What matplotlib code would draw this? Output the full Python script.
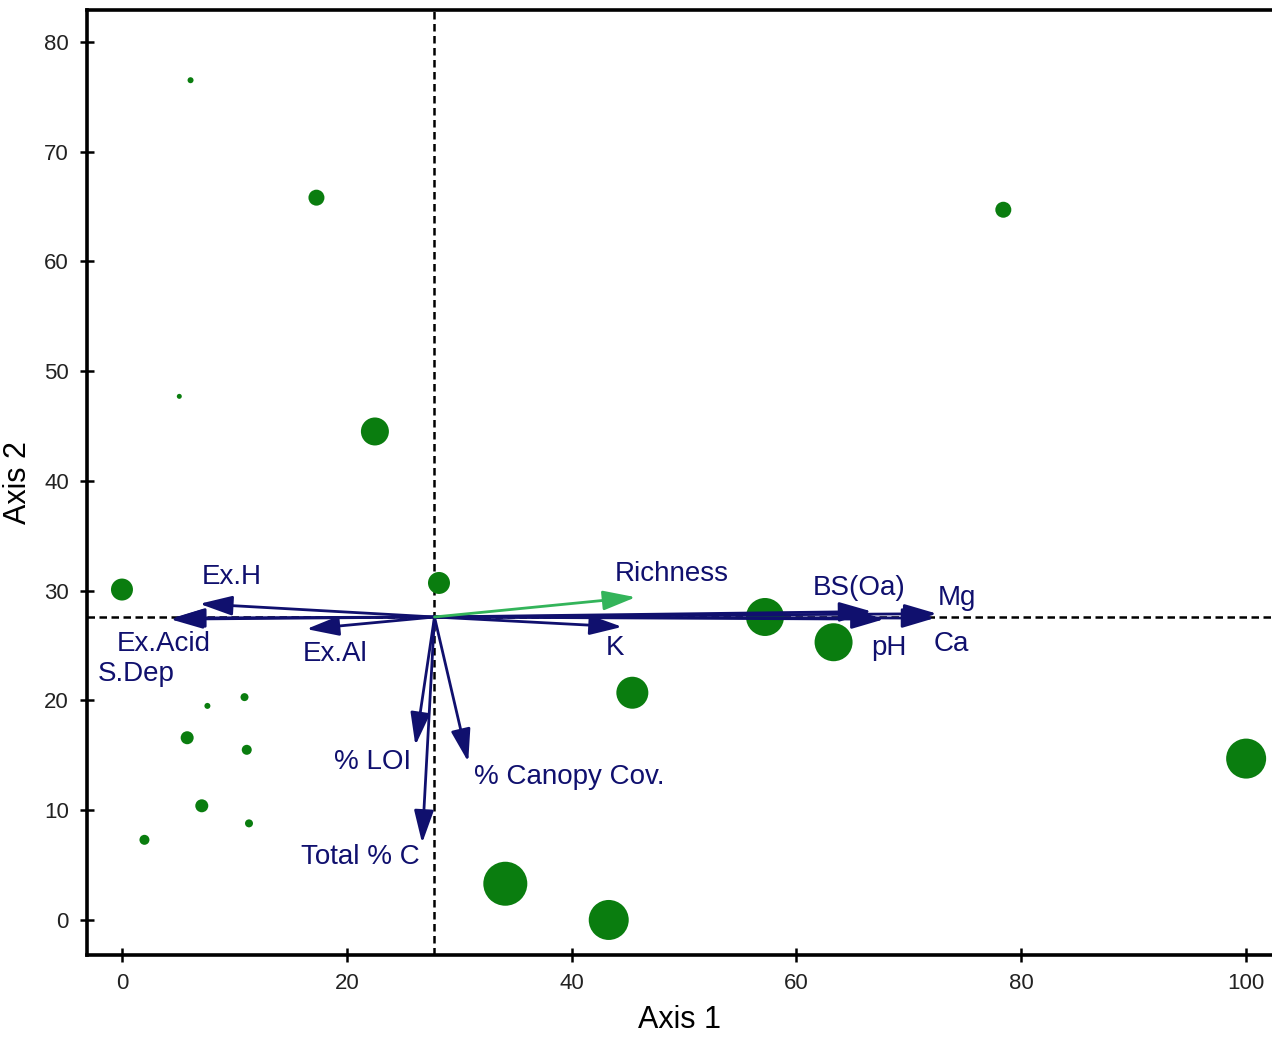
import numpy as np
import matplotlib.pyplot as plt


# ==========================================================
# DATOS
# ==========================================================

# sitios (puntos) : eje 1, eje 2 y diametro relativo
sitio_x = [6.1, 17.3, 78.4, 5.1, 22.5, 0.0, 28.2, 57.2, 63.3, 45.4,
           100.0, 34.1, 43.3, 10.9, 7.6, 5.8, 11.1, 7.1, 11.3, 2.0]
sitio_y = [76.5, 65.8, 64.7, 47.7, 44.5, 30.1, 30.7, 27.6, 25.3, 20.7,
           14.7, 3.3, 0.0, 20.3, 19.5, 16.6, 15.5, 10.4, 8.8, 7.3]
sitio_tam = [6, 16, 16, 5, 28, 22, 22, 38, 38, 32,
             40, 44, 40, 8, 6, 13, 10, 13, 8, 10]

# centroide de los vectores
origen = (27.8, 27.6)

# vectores ambientales (punta de flecha)
variables = ["Ex.H", "Ex.Acid", "S.Dep", "Ex.Al", "K", "BS(Oa)",
             "pH", "Mg", "Ca", "% LOI", "Total % C", "% Canopy Cov."]
punta_x = [6.9, 4.5, 4.3, 16.4, 44.5, 66.7, 67.8, 72.5, 72.3, 26.1, 26.7, 30.8]
punta_y = [28.8, 27.5, 27.4, 26.5, 26.7, 28.1, 27.4, 27.9, 27.5, 15.9, 7.0, 14.4]

# posicion de las etiquetas
etiq_x = [9.8, 3.7, 1.3, 19.0, 43.9, 65.6, 68.2, 74.3, 73.8, 22.3, 21.2, 39.8]
etiq_y = [31.2, 25.1, 22.4, 24.2, 24.8, 30.25, 24.8, 29.3, 25.1, 14.4, 5.7, 13.0]

# vector de riqueza
riqueza_punta = (45.7, 29.4)
riqueza_etiq = (48.9, 31.5)

verde = "#0a7d0f"
azul = "#10106e"
verde_claro = "#33b45a"

plt.rcParams["font.family"] = ["Liberation Sans", "DejaVu Sans"]

# ==========================================================
# GRAFICA
# ==========================================================

fig = plt.figure(figsize=(12.72, 10.37), dpi=100)
ax = fig.add_axes([0.0684, 0.0791, 0.9316, 0.9113])

ax.set_xlim(-3.11, 102.3)
ax.set_ylim(-3.19, 82.9)

# lineas punteadas por el centroide
ax.axhline(origen[1], color="black", linestyle=(0, (3, 1.8)), linewidth=1.8, zorder=1)
ax.axvline(origen[0], color="black", linestyle=(0, (3, 1.8)), linewidth=1.8, zorder=1)

# puntos
tam = (np.array(sitio_tam) * 0.72) ** 2
ax.scatter(sitio_x, sitio_y, s=tam, color=verde, edgecolors="none", zorder=2)

estilo = "-|>,head_length=1.0,head_width=0.3"

# flechas
for i in range(len(variables)):

    ax.annotate(
        "",
        xy=(punta_x[i], punta_y[i]),
        xytext=origen,
        arrowprops=dict(
            arrowstyle=estilo,
            color=azul,
            linewidth=2.0,
            shrinkA=0,
            shrinkB=0,
            mutation_scale=20
        ),
        zorder=3
    )

    ax.text(
        etiq_x[i],
        etiq_y[i],
        variables[i],
        color=azul,
        fontsize=20,
        ha="center",
        va="center",
        zorder=4
    )

ax.annotate(
    "",
    xy=riqueza_punta,
    xytext=origen,
    arrowprops=dict(
        arrowstyle=estilo,
        color=verde_claro,
        linewidth=2.0,
        shrinkA=0,
        shrinkB=0,
        mutation_scale=20
    ),
    zorder=3
)

ax.text(riqueza_etiq[0], riqueza_etiq[1], "Richness",
        color=azul, fontsize=20, ha="center", va="center", zorder=4)

# ejes
ax.set_xticks([0, 20, 40, 60, 80, 100])
ax.set_yticks([0, 10, 20, 30, 40, 50, 60, 70, 80])
ax.tick_params(direction="inout", length=10, width=1.8, labelsize=16,
               labelcolor="#222222", pad=8)

for lado in ["left", "top", "bottom"]:
    ax.spines[lado].set_linewidth(2.6)
ax.spines["right"].set_visible(False)

ax.set_xlabel("Axis 1", fontsize=22, labelpad=8)
ax.set_ylabel("Axis 2", fontsize=22, labelpad=8)

fig.savefig("out.png", dpi=100)
